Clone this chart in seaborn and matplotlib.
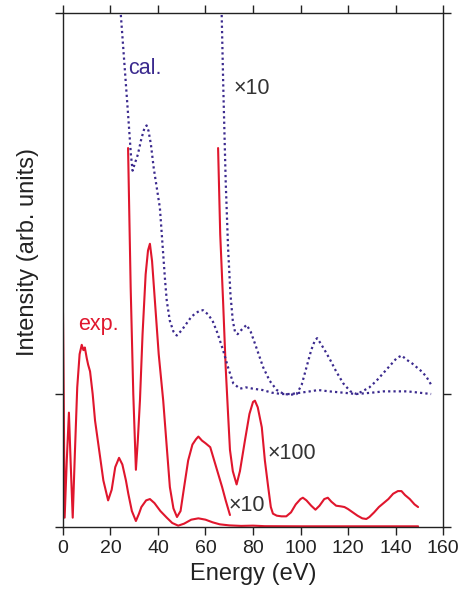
import numpy as np
import pandas as pd
import seaborn as sns
import matplotlib.pyplot as plt

# experimental curves (x1, x10, x100)
exp_x = [0.0, 0.3, 0.7, 1.6, 2.5, 3.2, 4.1, 5.0, 6.0, 7.0, 7.9, 8.6, 9.2, 10.0, 10.6, 11.4, 12.5, 13.5,
         15.6, 17.0, 19.0, 20.5, 22.0, 23.6, 25.0, 26.5, 27.5, 29.0, 30.7, 32.0, 33.0, 35.0, 36.6, 38.5,
         41.0, 43.7, 46.0, 48.5, 51.0, 54.0, 57.0, 60.0, 63.0, 66.0, 70.0, 75.0, 80.0, 85.0, 100.0,
         120.0, 149.5]
exp_y = [1.61, 1.0, 0.07, 0.5, 0.86, 0.5, 0.07, 0.55, 1.05, 1.3, 1.37, 1.33, 1.35, 1.27, 1.22, 1.17, 1.0,
         0.8, 0.53, 0.35, 0.2, 0.28, 0.45, 0.52, 0.47, 0.35, 0.25, 0.12, 0.045, 0.1, 0.15, 0.2, 0.21,
         0.18, 0.12, 0.07, 0.03, 0.01, 0.025, 0.055, 0.065, 0.055, 0.035, 0.02, 0.012, 0.008, 0.01,
         0.006, 0.005, 0.005, 0.005]

exp10_x = [27.4, 28.5, 29.6, 30.7, 31.5, 32.4, 33.5, 34.8, 35.8, 36.6, 37.5, 38.7, 40.3, 42.2, 43.7,
           45.0, 46.5, 48.0, 49.5, 51.0, 52.7, 54.5, 56.0, 57.0, 58.5, 60.0, 62.0, 64.0, 66.0, 67.0,
           68.5, 70.3]
exp10_y = [2.85, 1.8, 1.0, 0.43, 0.65, 0.95, 1.45, 1.9, 2.08, 2.13, 2.0, 1.7, 1.3, 0.95, 0.6,
           0.3, 0.14, 0.075, 0.12, 0.3, 0.5, 0.62, 0.66, 0.68, 0.65, 0.63, 0.6, 0.48, 0.36, 0.3,
           0.2, 0.09]

exp100_x = [65.3, 66.2, 67.4, 68.5, 69.5, 70.3, 71.5, 73.1, 74.5, 76.6, 78.5, 80.0, 80.8, 82.0, 83.7,
            85.0, 86.4, 87.5, 88.4, 90.0, 92.0, 94.0, 96.0, 98.0, 100.0, 101.0, 102.5, 104.5, 106.3,
            108.0, 110.0, 111.5, 113.0, 115.0, 117.0, 118.5, 120.0, 122.0, 124.0, 126.0, 127.7,
            129.0, 131.0, 133.0, 135.0, 137.0, 139.0, 141.0, 142.5, 144.0, 146.0, 148.0, 149.5]
exp100_y = [2.85, 2.2, 1.7, 1.2, 0.85, 0.58, 0.42, 0.32, 0.42, 0.65, 0.85, 0.94, 0.95, 0.9, 0.75,
            0.5, 0.3, 0.15, 0.1, 0.085, 0.08, 0.08, 0.11, 0.17, 0.21, 0.22, 0.2, 0.16, 0.13,
            0.16, 0.21, 0.22, 0.19, 0.16, 0.155, 0.15, 0.135, 0.11, 0.085, 0.065, 0.06,
            0.075, 0.11, 0.15, 0.18, 0.21, 0.25, 0.27, 0.27, 0.24, 0.21, 0.17, 0.15]

# calculated curves (x1, x10), offset by 1
cal_x = [23.0, 24.3, 26.0, 27.5, 28.6, 29.3, 30.0, 31.5, 33.0, 34.3, 35.2, 36.0, 37.0, 38.2, 39.5,
         40.8, 42.0, 43.0, 43.7, 45.0, 46.5, 47.9, 50.0, 52.0, 54.0, 56.0, 58.0, 59.0, 61.0, 63.0,
         65.0, 67.4, 69.5, 71.7, 74.5, 77.0, 80.0, 84.0, 88.0, 92.0, 96.0, 100.0, 104.0, 107.5,
         112.0, 118.0, 123.5, 130.0, 135.0, 140.0, 145.0, 150.0, 155.0]
cal_y = [4.2, 3.865, 3.45, 3.08, 2.8, 2.68, 2.72, 2.8, 2.92, 3.0, 3.02, 2.98, 2.88, 2.7, 2.55,
         2.4, 2.1, 1.85, 1.7, 1.55, 1.47, 1.44, 1.48, 1.53, 1.58, 1.61, 1.63, 1.63, 1.6, 1.55,
         1.46, 1.33, 1.2, 1.08, 1.04, 1.05, 1.04, 1.03, 1.01, 1.0, 1.0, 1.01, 1.02, 1.03,
         1.02, 1.01, 1.0, 1.01, 1.02, 1.02, 1.02, 1.01, 1.0]

cal10_x = [66.2, 66.8, 67.5, 68.5, 69.5, 70.5, 71.5, 72.4, 73.5, 75.0, 77.3, 79.0, 81.0, 84.3, 87.0,
           90.0, 93.0, 96.0, 98.4, 100.5, 102.5, 104.5, 106.0, 107.0, 108.5, 110.5, 112.4, 115.0,
           118.0, 121.0, 123.6, 126.0, 129.0, 132.0, 135.0, 138.0, 140.5, 142.6, 144.5, 147.0,
           149.0, 151.0, 153.0, 155.0]
cal10_y = [4.2, 3.865, 3.3, 2.6, 2.1, 1.75, 1.55, 1.47, 1.45, 1.48, 1.52, 1.47, 1.37, 1.2, 1.1,
           1.03, 1.0, 0.995, 1.0, 1.07, 1.2, 1.33, 1.4, 1.42, 1.38, 1.32, 1.26, 1.17,
           1.08, 1.02, 1.0, 1.02, 1.05, 1.1, 1.16, 1.22, 1.27, 1.29, 1.26, 1.23,
           1.2, 1.17, 1.13, 1.07]

x_ticks = [0, 20, 40, 60, 80, 100, 120, 140, 160]
y_top = 3.865

red = '#e0162d'
blue = '#3b2a8e'

sns.set_style('ticks')
plt.rcParams['font.family'] = ['Liberation Sans', 'DejaVu Sans']

fig = plt.figure(figsize=(4.7, 6.06), dpi=100)
ax = fig.add_axes([0.134, 0.1304, 0.8086, 0.848])

for xs, ys in [(exp_x, exp_y), (exp10_x, exp10_y), (exp100_x, exp100_y)]:
    df = pd.DataFrame({'x': xs, 'y': ys})
    sns.lineplot(data=df, x='x', y='y', sort=False, estimator=None, color=red, lw=1.5, ax=ax)

for xs, ys in [(cal_x, cal_y), (cal10_x, cal10_y)]:
    df = pd.DataFrame({'x': xs, 'y': ys})
    sns.lineplot(data=df, x='x', y='y', sort=False, estimator=None, color=blue, lw=1.6,
                 linestyle=(0, (1, 1.4)), ax=ax)

ax.set_xlim(0, 160)
ax.set_ylim(0, y_top)
ax.set_xticks(x_ticks)
ax.set_yticks([0, 1, y_top])
ax.set_yticklabels([])
ax.tick_params(direction='out', length=6, width=1, top=True, right=True, labelsize=14,
               colors='#222222')
for sp in ax.spines.values():
    sp.set_linewidth(1.0)
    sp.set_color('#222222')

ax.set_xlabel('Energy (eV)', fontsize=17, color='#222222')
ax.set_ylabel('Intensity (arb. units)', fontsize=17, color='#222222')
ax.yaxis.set_label_coords(-0.062, 0.535)

ax.text(27.4, 3.45, 'cal.', color=blue, fontsize=15.5, va='center')
ax.text(71.6, 3.30, '×10', color='#333333', fontsize=15.5, va='center')
ax.text(6.3, 1.52, 'exp.', color=red, fontsize=15.5, va='center')
ax.text(86.3, 0.556, '×100', color='#333333', fontsize=15.5, va='center')
ax.text(69.9, 0.165, '×10', color='#333333', fontsize=15.5, va='center')

plt.savefig('out.png', dpi=100)
